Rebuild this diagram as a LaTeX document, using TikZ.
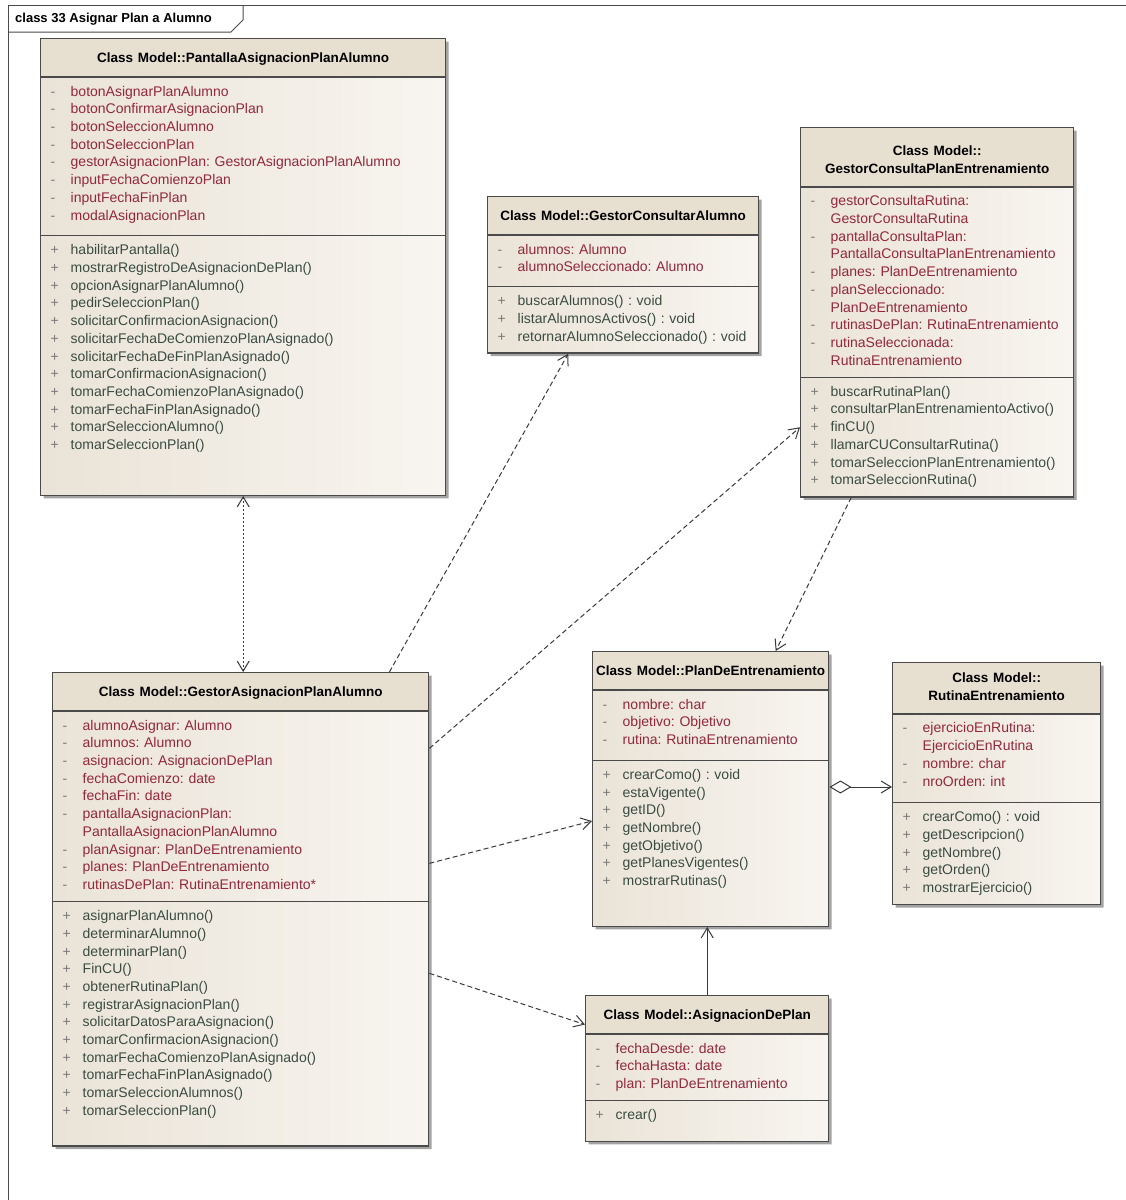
\documentclass[tikz,border=0pt]{standalone}
\usepackage{fontspec}
\setmainfont{Liberation Sans}
\usepackage{xcolor}
\usepackage{tikz}
\usetikzlibrary{positioning, arrows.meta, shapes.multipart, shadows, calc}
\definecolor{clsline}{HTML}{4A4A4A}
\definecolor{clshead}{HTML}{E7DFD0}
\definecolor{clsdark}{HTML}{EAE3D7}
\definecolor{clslight}{HTML}{F8F5F0}
\definecolor{attrred}{HTML}{93283A}
\definecolor{opgreen}{HTML}{3A4C42}
\definecolor{markgray}{HTML}{7A7A7A}
\definecolor{connector}{HTML}{3A3A3A}
\frenchspacing
\newcommand{\attrib}[1]{\strut\makebox[20pt][l]{\textcolor{markgray}{-}}\mbox{\textcolor{attrred}{#1}}}
\newcommand{\attribcont}[1]{\strut\hspace*{20pt}\mbox{\textcolor{attrred}{#1}}}
\newcommand{\oper}[1]{\strut\makebox[20pt][l]{\textcolor{markgray}{+}}\mbox{\textcolor{opgreen}{#1}}}
\newcommand{\secgap}[1]{\rule[-#1]{0pt}{#1}}
\newcommand{\clstitle}[1]{\rule[-7.5pt]{0pt}{25pt}\makebox[\hsize][c]{\fontsize{13.5}{17.7}\selectfont\bfseries #1}}
\newcommand{\clstitletwo}[3][21pt]{\rule{0pt}{#1}\makebox[\hsize][c]{\fontsize{13.5}{17.7}\selectfont\bfseries #2}\\
  \rule[-7pt]{0pt}{7pt}\makebox[\hsize][c]{\fontsize{13.5}{17.7}\selectfont\bfseries #3}}
\tikzset{
  umlclass/.style   = {rectangle split, rectangle split parts=3, draw=clsline,
                       line width=1.4pt, left color=clsdark, right color=clslight,
                       path picture={\fill[clshead] (path picture bounding box.north west)
                         rectangle ([yshift=-#1]path picture bounding box.north east);},
                       anchor=north west, inner xsep=10pt, inner ysep=6pt, align=left,
                       font=\fontsize{14}{17.7}\selectfont,
                       drop shadow={shadow xshift=3pt, shadow yshift=-3pt, fill=black!60, opacity=0.6}},
  umlclass/.default = 37pt,
  frameline/.style  = {draw=clsline, line width=1pt},
  frametitle/.style = {anchor=west, inner sep=0pt, font=\fontsize{13}{16}\selectfont\bfseries},
  dep/.style        = {draw=connector, line width=1pt, dash pattern=on 5pt off 3pt,
                       -{Straight Barb[length=10pt,width=12pt]}},
  depboth/.style    = {dep, dash pattern=on 2pt off 2pt,
                       {Straight Barb[length=10pt,width=12pt]}-{Straight Barb[length=10pt,width=12pt]}},
  assoc/.style      = {draw=connector, line width=1pt, -{Straight Barb[length=10pt,width=12pt]}},
  aggr/.style       = {draw=connector, line width=1pt,
                       {Diamond[open,length=22pt,width=13pt]}-{Straight Barb[length=10pt,width=12pt]}},
}

\begin{document}
\begin{tikzpicture}[x=1pt, y=-1pt]
  \useasboundingbox (0,0) rectangle (1126,1200);

  % frame of the diagram
  \draw[frameline] (8,1200) -- (8,5) -- (1126,5);
  \draw[frameline] (8,32) -- (231,32) -- (243,20) -- (243,5);
  \node[frametitle] (frame) at (15,19) {class 33 Asignar Plan a Alumno};

  \node[umlclass, text width=385pt] (pantalla) at (40,38) {\clstitle{Class Model::PantallaAsignacionPlanAlumno}
    \nodepart{two}
    \attrib{botonAsignarPlanAlumno}\\
    \attrib{botonConfirmarAsignacionPlan}\\
    \attrib{botonSeleccionAlumno}\\
    \attrib{botonSeleccionPlan}\\
    \attrib{gestorAsignacionPlan: GestorAsignacionPlanAlumno}\\
    \attrib{inputFechaComienzoPlan}\\
    \attrib{inputFechaFinPlan}\\
    \attrib{modalAsignacionPlan}\secgap{9pt}
    \nodepart{three}
    \oper{habilitarPantalla()}\\
    \oper{mostrarRegistroDeAsignacionDePlan()}\\
    \oper{opcionAsignarPlanAlumno()}\\
    \oper{pedirSeleccionPlan()}\\
    \oper{solicitarConfirmacionAsignacion()}\\
    \oper{solicitarFechaDeComienzoPlanAsignado()}\\
    \oper{solicitarFechaDeFinPlanAsignado()}\\
    \oper{tomarConfirmacionAsignacion()}\\
    \oper{tomarFechaComienzoPlanAsignado()}\\
    \oper{tomarFechaFinPlanAsignado()}\\
    \oper{tomarSeleccionAlumno()}\\
    \oper{tomarSeleccionPlan()}\secgap{39pt}};

  \node[umlclass, text width=251pt] (consAlumno) at (487,196) {\clstitle{Class Model::GestorConsultarAlumno}
    \nodepart{two}
    \attrib{alumnos: Alumno}\\
    \attrib{alumnoSeleccionado: Alumno}\secgap{8pt}
    \nodepart{three}
    \oper{buscarAlumnos() : void}\\
    \oper{listarAlumnosActivos() : void}\\
    \oper{retornarAlumnoSeleccionado() : void}};

  \node[umlclass=58pt, text width=253pt] (consPlan) at (800,127) {\clstitletwo{Class Model::}{GestorConsultaPlanEntrenamiento}
    \nodepart{two}
    \attrib{gestorConsultaRutina:}\\
    \attribcont{GestorConsultaRutina}\\
    \attrib{pantallaConsultaPlan:}\\
    \attribcont{PantallaConsultaPlanEntrenamiento}\\
    \attrib{planes: PlanDeEntrenamiento}\\
    \attrib{planSeleccionado:}\\
    \attribcont{PlanDeEntrenamiento}\\
    \attrib{rutinasDePlan: RutinaEntrenamiento}\\
    \attrib{rutinaSeleccionada:}\\
    \attribcont{RutinaEntrenamiento}
    \nodepart{three}
    \oper{buscarRutinaPlan()}\\
    \oper{consultarPlanEntrenamientoActivo()}\\
    \oper{finCU()}\\
    \oper{llamarCUConsultarRutina()}\\
    \oper{tomarSeleccionPlanEntrenamiento()}\\
    \oper{tomarSeleccionRutina()}};

  \node[umlclass, text width=356pt] (gestorAsig) at (52,672) {\clstitle{Class Model::GestorAsignacionPlanAlumno}
    \nodepart{two}
    \attrib{alumnoAsignar: Alumno}\\
    \attrib{alumnos: Alumno}\\
    \attrib{asignacion: AsignacionDePlan}\\
    \attrib{fechaComienzo: date}\\
    \attrib{fechaFin: date}\\
    \attrib{pantallaAsignacionPlan:}\\
    \attribcont{PantallaAsignacionPlanAlumno}\\
    \attrib{planAsignar: PlanDeEntrenamiento}\\
    \attrib{planes: PlanDeEntrenamiento}\\
    \attrib{rutinasDePlan: RutinaEntrenamiento*}
    \nodepart{three}
    \oper{asignarPlanAlumno()}\\
    \oper{determinarAlumno()}\\
    \oper{determinarPlan()}\\
    \oper{FinCU()}\\
    \oper{obtenerRutinaPlan()}\\
    \oper{registrarAsignacionPlan()}\\
    \oper{solicitarDatosParaAsignacion()}\\
    \oper{tomarConfirmacionAsignacion()}\\
    \oper{tomarFechaComienzoPlanAsignado()}\\
    \oper{tomarFechaFinPlanAsignado()}\\
    \oper{tomarSeleccionAlumnos()}\\
    \oper{tomarSeleccionPlan()}\secgap{24pt}};

  \node[umlclass, text width=216pt] (plan) at (592,651) {\clstitle{Class Model::PlanDeEntrenamiento}
    \nodepart{two}
    \attrib{nombre: char}\\
    \attrib{objetivo: Objetivo}\\
    \attrib{rutina: RutinaEntrenamiento}\secgap{9pt}
    \nodepart{three}
    \oper{crearComo() : void}\\
    \oper{estaVigente()}\\
    \oper{getID()}\\
    \oper{getNombre()}\\
    \oper{getObjetivo()}\\
    \oper{getPlanesVigentes()}\\
    \oper{mostrarRutinas()}\secgap{34pt}};

  \node[umlclass=50pt, text width=188pt] (rutina) at (892,662) {\clstitletwo[13pt]{Class Model::}{RutinaEntrenamiento}
    \nodepart{two}
    \attrib{ejercicioEnRutina:}\\
    \attribcont{EjercicioEnRutina}\\
    \attrib{nombre: char}\\
    \attrib{nroOrden: int}\secgap{10pt}
    \nodepart{three}
    \oper{crearComo() : void}\\
    \oper{getDescripcion()}\\
    \oper{getNombre()}\\
    \oper{getOrden()}\\
    \oper{mostrarEjercicio()}};

  \node[umlclass, text width=223pt] (asigPlan) at (585,995) {\clstitle{Class Model::AsignacionDePlan}
    \nodepart{two}
    \attrib{fechaDesde: date}\\
    \attrib{fechaHasta: date}\\
    \attrib{plan: PlanDeEntrenamiento}
    \nodepart{three}
    \oper{crear()}\secgap{15pt}};

  \draw[depboth] (pantalla.south) -- (pantalla.south |- gestorAsig.north);
  \draw[dep] ([xshift=-40pt]gestorAsig.north east) -- ([xshift=-55pt]consAlumno.south);
  \draw[dep] ([yshift=161pt]gestorAsig.east) -- ([yshift=-115pt]consPlan.west);
  \draw[dep] ([xshift=-86pt]consPlan.south) -- ([xshift=65pt]plan.north);
  \draw[dep] ([yshift=46pt]gestorAsig.east) -- ([yshift=-32pt]plan.west);
  \draw[dep] ([yshift=-64pt]gestorAsig.east) -- ([yshift=44pt]asigPlan.west);
  \draw[assoc] (asigPlan.north) -- (asigPlan.north |- plan.south);
  \draw[aggr] ([yshift=2pt]plan.east) -- ([yshift=2pt]plan.east -| rutina.west);

\end{tikzpicture}
\end{document}
